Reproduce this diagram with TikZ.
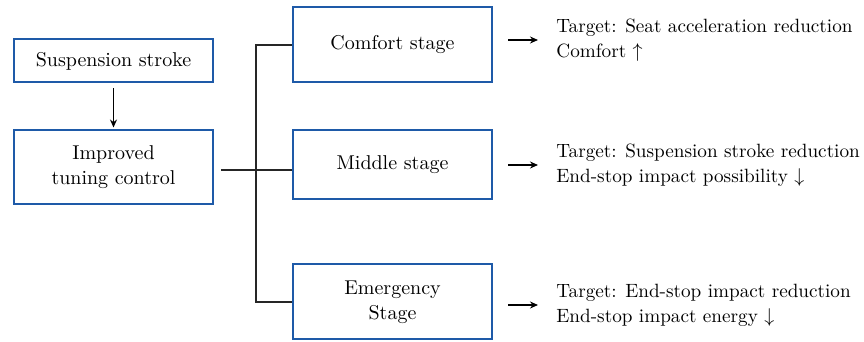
\documentclass[tikz,border=0pt]{standalone}
\usetikzlibrary{arrows.meta}
\definecolor{boxblue}{RGB}{30,90,168}
\tikzset{
	stagebox/.style={draw=boxblue, line width=1pt, minimum width=99.5pt, align=center, inner sep=2pt},
	link/.style={draw=black!85, line width=1pt},
	pointer/.style={-{Stealth[length=4pt,width=3.5pt]}, line width=0.7pt},
	target/.style={anchor=west, align=left, inner sep=0pt, font=\fontsize{9.6}{12.6}\selectfont},
}
\begin{document}
\begin{tikzpicture}[x=0.5pt,y=-0.5pt,font=\fontsize{10}{12.5}\selectfont]
	\useasboundingbox (0,0) rectangle (864,342);
	\node[stagebox, minimum height=21.5pt](stroke) at (113.5,61) {Suspension stroke};
	\node[stagebox, minimum height=37pt](tune) at (113.5,167.5) {Improved\\tuning control};
	\node[stagebox, minimum height=37.5pt](comf) at (392.5,45) {Comfort stage};
	\node[stagebox, minimum height=34.5pt](mid) at (392.5,165) {Middle stage};
	\node[stagebox, minimum height=37.5pt](emer) at (392.5,302) {Emergency\\Stage};
	\draw[pointer] ([yshift=-2.5pt]stroke.south) -- ([yshift=1pt]tune.north);
	% branching lines
	\coordinate (jn) at (256,170);
	\coordinate (tuneout) at (221,170);
	\draw[link] (tuneout) -- (jn) -- (jn -| mid.west);
	\draw[link] (comf.west) -| (jn) |- (emer.west);
	% targets of each stage
	\node[target](t1) at (556,40) {Target: Seat acceleration reduction\\Comfort $\uparrow$};
	\node[target](t2) at (556,165) {Target: Suspension stroke reduction\\End-stop impact possibility $\downarrow$};
	\node[target](t3) at (556,305) {Target: End-stop impact reduction\\End-stop impact energy $\downarrow$};
	\coordinate (a1) at (508,40);
	\coordinate (a2) at (508,165);
	\coordinate (a3) at (508,305);
	\draw[pointer] (a1) -- ([xshift=-9pt]t1.west);
	\draw[pointer] (a2) -- ([xshift=-9pt]t2.west);
	\draw[pointer] (a3) -- ([xshift=-9pt]t3.west);
\end{tikzpicture}
\end{document}
